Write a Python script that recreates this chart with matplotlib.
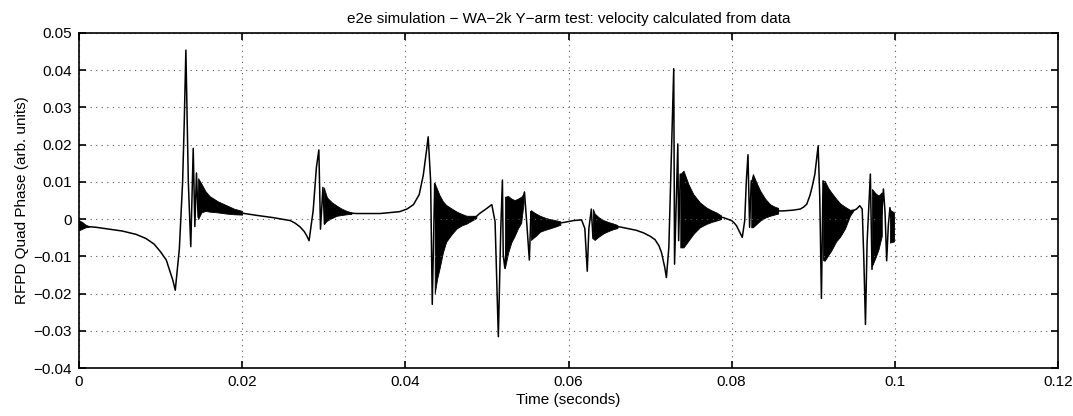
import numpy as np
import matplotlib
matplotlib.use('Agg')
from matplotlib import pyplot as plt

plt.rcParams['font.family'] = ['Liberation Sans', 'DejaVu Sans']

# main trace
time_line = [0.0, 0.0005, 0.0021, 0.0037, 0.0053, 0.0070, 0.0082, 0.0092, 0.0100,
             0.0107, 0.0111, 0.0115, 0.0118,
             0.0123, 0.0127, 0.0129, 0.0131, 0.0134, 0.0137, 0.0140, 0.0142, 0.0144,
             0.0146, 0.0148, 0.0152, 0.0160, 0.0180, 0.0200, 0.0218, 0.0238, 0.0259,
             0.0265, 0.0271, 0.0276, 0.0279, 0.0282, 0.0287, 0.0291, 0.0294, 0.0296,
             0.0299, 0.0301, 0.0304, 0.0316, 0.0328, 0.0340, 0.0369, 0.0393, 0.0402,
             0.0410, 0.0417, 0.0422, 0.0426, 0.0428, 0.0431, 0.0433, 0.0436, 0.0439,
             0.0442, 0.0450, 0.0463, 0.0475, 0.0487, 0.0491, 0.0500, 0.0506, 0.0510,
             0.0514, 0.0517, 0.0519, 0.0520, 0.0522, 0.0525, 0.0535, 0.0542, 0.0546,
             0.0549, 0.0552, 0.0554, 0.0555, 0.0565, 0.0577, 0.0590, 0.0594, 0.0606,
             0.0616, 0.0620, 0.0623, 0.0625, 0.0628, 0.0630, 0.0632, 0.0643, 0.0655,
             0.0663, 0.0683, 0.0692, 0.0700, 0.0706, 0.0711, 0.0714, 0.0716, 0.0718,
             0.0720, 0.0723, 0.0726, 0.0729, 0.0730, 0.0734, 0.0735, 0.0737, 0.0741,
             0.0753, 0.0769, 0.0781, 0.0790, 0.0800, 0.0803, 0.0806, 0.0808, 0.0811,
             0.0813, 0.0816, 0.0818, 0.0820, 0.0822, 0.0824, 0.0826, 0.0835, 0.0847,
             0.0857, 0.0863, 0.0875, 0.0884, 0.0888, 0.0892, 0.0896, 0.0899, 0.0902,
             0.0904, 0.0906, 0.0908, 0.0910, 0.0912, 0.0914, 0.0922, 0.0933, 0.0945,
             0.0953, 0.0957, 0.0960, 0.0962, 0.0964, 0.0966, 0.0970, 0.0972, 0.0975,
             0.0980, 0.0984, 0.0986, 0.0988, 0.0990, 0.0992, 0.0994, 0.0997, 0.0999]
phase_line = [-0.0016, -0.0019, -0.0022, -0.0027, -0.0032, -0.0041, -0.0052, -0.0067, -0.0088,
              -0.0110, -0.0137, -0.0164, -0.0191,
              -0.0080, 0.0100, 0.0260, 0.0454, 0.0100, -0.0074, 0.0190, -0.0020, 0.0124,
              0.0005, 0.0087, 0.0040, 0.0040, 0.0026, 0.0016, 0.0010, 0.0004, -0.0004,
              -0.0011, -0.0021, -0.0033, -0.0044, -0.0058, 0.0022, 0.0139, 0.0186, -0.0027,
              0.0085, -0.0013, 0.0027, 0.0022, 0.0017, 0.0015, 0.0015, 0.0020, 0.0027,
              0.0039, 0.0066, 0.0118, 0.0185, 0.0221, 0.0103, -0.0229, 0.0096, -0.0150,
              -0.0030, -0.0012, -0.0003, -0.0001, 0.0007, 0.0015, 0.0029, 0.0039, -0.0007,
              -0.0316, -0.0025, 0.0105, -0.0097, -0.0132, -0.0030, 0.0005, 0.0030, 0.0073,
              -0.0016, -0.0110, 0.0020, -0.0016, -0.0012, -0.0012, -0.0010, -0.0009, -0.0004,
              -0.0002, -0.0025, -0.0140, -0.0025, 0.0027, -0.0052, -0.0020, -0.0020, -0.0020,
              -0.0021, -0.0030, -0.0037, -0.0046, -0.0055, -0.0072, -0.0090, -0.0110, -0.0130,
              -0.0157, -0.0076, 0.0166, 0.0404, -0.0121, 0.0202, -0.0058, 0.0121, 0.0027,
              0.0013, 0.0009, 0.0007, 0.0004, -0.0004, -0.0010, -0.0018, -0.0027, -0.0040,
              -0.0049, -0.0004, 0.0103, 0.0173, -0.0022, 0.0103, 0.0050, 0.0036, 0.0025,
              0.0022, 0.0022, 0.0024, 0.0027, 0.0032, 0.0040, 0.0064, 0.0090, 0.0121,
              0.0160, 0.0197, 0.0058, -0.0213, 0.0103, -0.0010, -0.0009, -0.0005, 0.0018,
              0.0027, 0.0036, 0.0027, -0.0108, -0.0283, -0.0063, 0.0121, -0.0135, -0.0020,
              -0.0010, 0.0013, 0.0081, 0.0018, -0.0112, -0.0018, 0.0031, -0.0020, -0.0018]

# dense ringing after each crossing: envelopes (low / high)
ring_t = [[0.0, 0.0004, 0.0008, 0.0012],
          [0.0146, 0.0150, 0.0155, 0.0160, 0.0170, 0.0180, 0.0190, 0.0200],
          [0.0300, 0.0304, 0.0310, 0.0316, 0.0322, 0.0328, 0.0334],
          [0.0436, 0.0439, 0.0442, 0.0446, 0.0450, 0.0457, 0.0463, 0.0469, 0.0475, 0.0487],
          [0.0522, 0.0526, 0.0530, 0.0534, 0.0538, 0.0542, 0.0545],
          [0.0554, 0.0557, 0.0560, 0.0565, 0.0571, 0.0577, 0.0584, 0.0590],
          [0.0630, 0.0632, 0.0637, 0.0643, 0.0649, 0.0655, 0.0660],
          [0.0737, 0.0741, 0.0747, 0.0753, 0.0761, 0.0769, 0.0775, 0.0781, 0.0787],
          [0.0824, 0.0826, 0.0831, 0.0835, 0.0841, 0.0847, 0.0852, 0.0857],
          [0.0912, 0.0914, 0.0918, 0.0922, 0.0928, 0.0933, 0.0939, 0.0945, 0.0949],
          [0.0972, 0.0976, 0.0980, 0.0984],
          [0.0994, 0.0999]]
ring_lo = [[-0.0030, -0.0026, -0.0022, -0.0021],
           [0.0000, 0.0018, 0.0022, 0.0020, 0.0018, 0.0015, 0.0013, 0.0012],
           [-0.0013, -0.0004, 0.0003, 0.0009, 0.0011, 0.0013, 0.0014],
           [-0.0200, -0.0160, -0.0132, -0.0090, -0.0061, -0.0040, -0.0025, -0.0017, -0.0012, 0.0003],
           [-0.0132, -0.0090, -0.0062, -0.0045, -0.0025, -0.0010, 0.0045],
           [-0.0056, -0.0050, -0.0045, -0.0034, -0.0029, -0.0025, -0.0020, -0.0015],
           [-0.0052, -0.0056, -0.0047, -0.0038, -0.0032, -0.0027, -0.0024],
           [-0.0076, -0.0076, -0.0058, -0.0040, -0.0022, -0.0013, -0.0008, -0.0004, 0.0000],
           [-0.0022, -0.0022, -0.0012, -0.0004, 0.0004, 0.0009, 0.0012, 0.0015],
           [-0.0110, -0.0112, -0.0098, -0.0085, -0.0060, -0.0047, -0.0025, 0.0009, 0.0022],
           [-0.0126, -0.0105, -0.0081, -0.0045],
           [-0.0063, -0.0060]]
ring_hi = [[-0.0003, -0.0008, -0.0015, -0.0019],
           [0.0110, 0.0095, 0.0075, 0.0062, 0.0048, 0.0038, 0.0028, 0.0022],
           [0.0085, 0.0058, 0.0045, 0.0036, 0.0028, 0.0022, 0.0018],
           [0.0096, 0.0080, 0.0064, 0.0048, 0.0038, 0.0028, 0.0020, 0.0014, 0.0009, 0.0009],
           [0.0060, 0.0062, 0.0055, 0.0051, 0.0055, 0.0060, 0.0068],
           [0.0024, 0.0019, 0.0015, 0.0009, 0.0004, 0.0000, -0.0003, -0.0006],
           [0.0027, 0.0015, 0.0005, -0.0003, -0.0008, -0.0012, -0.0016],
           [0.0121, 0.0130, 0.0094, 0.0067, 0.0045, 0.0031, 0.0024, 0.0018, 0.0010],
           [0.0103, 0.0121, 0.0095, 0.0076, 0.0055, 0.0040, 0.0034, 0.0030],
           [0.0103, 0.0103, 0.0085, 0.0072, 0.0055, 0.0042, 0.0033, 0.0025, 0.0026],
           [0.0081, 0.0070, 0.0063, 0.0072],
           [0.0025, 0.0018]]

x_ticks = [0, 0.02, 0.04, 0.06, 0.08, 0.1, 0.12]
x_labels = ['0', '0.02', '0.04', '0.06', '0.08', '0.1', '0.12']
y_ticks = [-0.04, -0.03, -0.02, -0.01, 0, 0.01, 0.02, 0.03, 0.04, 0.05]
y_labels = ['\u22120.04', '\u22120.03', '\u22120.02', '\u22120.01', '0',
            '0.01', '0.02', '0.03', '0.04', '0.05']

fig = plt.figure(figsize=(10.73, 4.16), dpi=100)
ax = fig.add_axes([79/1073., 48/416., 979/1073., 335/416.])

for t, lo, hi in zip(ring_t, ring_lo, ring_hi):
    ax.fill_between(t, lo, hi, color='k', linewidth=0.6, edgecolor='k')
ax.plot(time_line, phase_line, color='k', linewidth=1.1)

ax.set_xlim(0, 0.12)
ax.set_ylim(-0.04, 0.05)
ax.set_xticks(x_ticks)
ax.set_xticklabels(x_labels)
ax.set_yticks(y_ticks)
ax.set_yticklabels(y_labels)
ax.tick_params(direction='in', length=5, width=1.2, top=True, right=True,
               labelsize=11, pad=5)
ax.grid(True, linestyle=(0, (1, 4)), color='0.35', linewidth=0.8)
for s in ax.spines.values():
    s.set_linewidth(1.2)

ax.set_title('e2e simulation \u2212 WA\u22122k Y\u2212arm test: velocity calculated from data',
             fontsize=11, pad=7)
ax.set_xlabel('Time (seconds)', fontsize=11, labelpad=3)
ax.set_ylabel('RFPD Quad Phase (arb. units)', fontsize=11, labelpad=3)

plt.savefig('out.png', dpi=100)
